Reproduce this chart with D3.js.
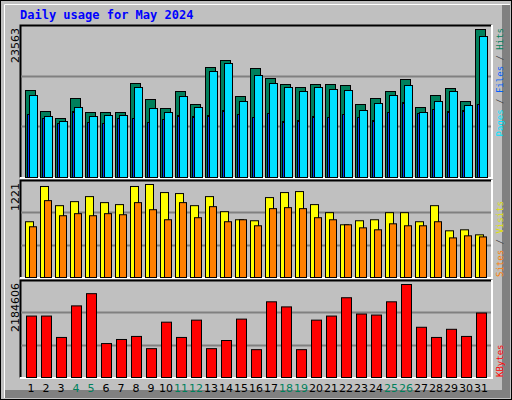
<!DOCTYPE html>
<html><head><meta charset="utf-8">
<script src="https://cdn.jsdelivr.net/npm/d3@7"></script>
<style>body{margin:0;background:#fff}</style>
</head><body>
<script>
const days = d3.range(1, 32);
const weekends = [4, 5, 11, 12, 18, 19, 25, 26];

const hits = [13850,10507,9393,12577,10348,10348,10348,14965,12418,10985,13691,11622,17512,18626,12895,17353,15761,14806,14328,14806,14806,14646,11622,12577,13691,15602,11144,13054,14169,12099,23563];
const files = [13054,9711,8915,11144,9711,9870,9870,14328,10985,10348,12895,11144,16875,18149,12099,16238,14965,14328,13691,14328,14010,13850,10666,11781,13054,14646,10348,12099,13691,11462,22447];
const pages = [10030,9393,8597,10507,8756,8597,9393,9393,8756,9234,9870,9711,9870,10666,10030,9552,10189,8915,9074,9711,9552,10030,9552,9074,10348,11940,10189,10826,10507,10666,11622];
const visits = [732,1195,943,996,1062,983,957,1195,1221,1115,1102,943,1062,864,758,745,1049,1115,1128,957,851,692,745,758,851,851,732,943,613,626,560];
const sites = [666,1009,811,838,811,838,824,983,890,758,983,785,930,732,758,679,904,917,904,785,758,692,652,626,705,679,679,732,520,547,533];
const kbytes = [1443113,1443113,940814,1682303,1969331,797300,892976,964733,677705,1299599,940814,1347437,677705,869057,1371356,653786,1777979,1658384,653786,1347437,1443113,1873655,1490951,1467032,1777979,2184606,1180004,940814,1132166,964733,1514870];

const C = {hits:'#00805c', files:'#00e0ff', pages:'#0040ff', visits:'#ffff00', sites:'#ff8000', kbytes:'#ff0000'};

const W = 512, H = 400;
const svg = d3.select('body').append('svg').attr('width', W).attr('height', H);

// frame
svg.append('rect').attr('width', W).attr('height', H).attr('fill', '#c0c0c0');
svg.append('rect').attr('x', 502).attr('y', 4).attr('width', 8).attr('height', 394).attr('fill', '#808080');
svg.append('rect').attr('x', 4).attr('y', 390).attr('width', 506).attr('height', 8).attr('fill', '#808080');
svg.append('rect').attr('x', 0.5).attr('y', 0.5).attr('width', W - 1).attr('height', H - 1).attr('fill', 'none').attr('stroke', '#000');
svg.append('path').attr('d', 'M4.5,398V4.5H510').attr('fill', 'none').attr('stroke', '#fff');

svg.append('text').attr('x', 20).attr('y', 19).text('Daily usage for May 2024')
  .attr('font-family', 'DejaVu Sans Mono').attr('font-weight', 'bold').attr('font-size', 12).attr('fill', '#0000ff');

const x = d3.scaleLinear().domain([1, 32]).range([25, 25 + 15 * 31]);
const px0 = 20, px1 = 491;

function panel(y0, y1, max, label, series) {
  svg.append('rect').attr('x', px0).attr('y', y0).attr('width', px1 - px0).attr('height', y1 - y0).attr('fill', '#c0c0c0');
  svg.append('path').attr('d', `M${px0 + 0.5},${y1 + 0.5}V${y0 + 0.5}H${px1 + 0.5}`).attr('fill', 'none').attr('stroke', '#000').attr('stroke-width', 2);
  svg.append('path').attr('d', `M${px1 + 1},${y0}V${y1 + 1}H${px0}`).attr('fill', 'none').attr('stroke', '#fff').attr('stroke-width', 2);
  const y = d3.scaleLinear().domain([0, max]).range([y1, y0 + 4]);
  [1, 2].forEach(i => {
    const gy = Math.round(y1 - (y1 - y0) * i / 3) + 0.5;
    svg.append('line').attr('x1', px0 + 1).attr('x2', px1).attr('y1', gy).attr('y2', gy).attr('stroke', '#808080').attr('stroke-width', 2);
  });
  series.forEach(s => {
    svg.append('g').selectAll('rect').data(s.data).join('rect')
      .attr('x', (d, i) => x(days[i]) + s.dx + 0.5)
      .attr('y', d => y(d) + 0.5)
      .attr('width', s.w)
      .attr('height', d => y1 - y(d))
      .attr('fill', s.color).attr('stroke', '#000').attr('stroke-width', 1);
  });
  svg.append('text').attr('transform', `translate(19,${y0 + 3}) rotate(-90)`)
    .attr('text-anchor', 'end').attr('font-family', 'DejaVu Sans').attr('font-size', 11).text(label);
}

panel(25, 177, 23563, '23563', [
  {data: hits, dx: 0, w: 10, color: C.hits},
  {data: pages, dx: 2, w: 2, color: C.pages},
  {data: files, dx: 4, w: 8, color: C.files}
]);
panel(180, 277, 1221, '1221', [
  {data: visits, dx: 0, w: 8, color: C.visits},
  {data: sites, dx: 4, w: 7, color: C.sites}
]);
panel(280, 377, 2184606, '2184606', [
  {data: kbytes, dx: 1, w: 10, color: C.kbytes}
]);

// right labels
function sideLabel(yPos, anchor, parts) {
  const t = svg.append('text').attr('transform', `translate(503,${yPos}) rotate(-90)`)
    .attr('text-anchor', anchor).attr('font-family', 'DejaVu Sans Mono').attr('font-size', 9);
  parts.forEach(p => t.append('tspan').attr('fill', p[1]).text(p[0]));
}
sideLabel(28, 'end', [['Pages', C.files], [' / ', '#404040'], ['Files', '#0060ff'], [' / ', '#404040'], ['Hits', C.hits]]);
sideLabel(277, 'start', [['Sites', C.sites], [' / ', '#404040'], ['Visits', '#e0e000']]);
sideLabel(377, 'start', [['KBytes', C.kbytes]]);

svg.append('g').selectAll('text').data(days).join('text')
  .attr('x', d => x(d) + 6).attr('y', 392)
  .attr('text-anchor', 'middle').attr('font-family', 'DejaVu Sans').attr('font-size', 11)
  .attr('fill', d => weekends.includes(d) ? C.hits : '#000')
  .text(d => d);
</script>
</body></html>
